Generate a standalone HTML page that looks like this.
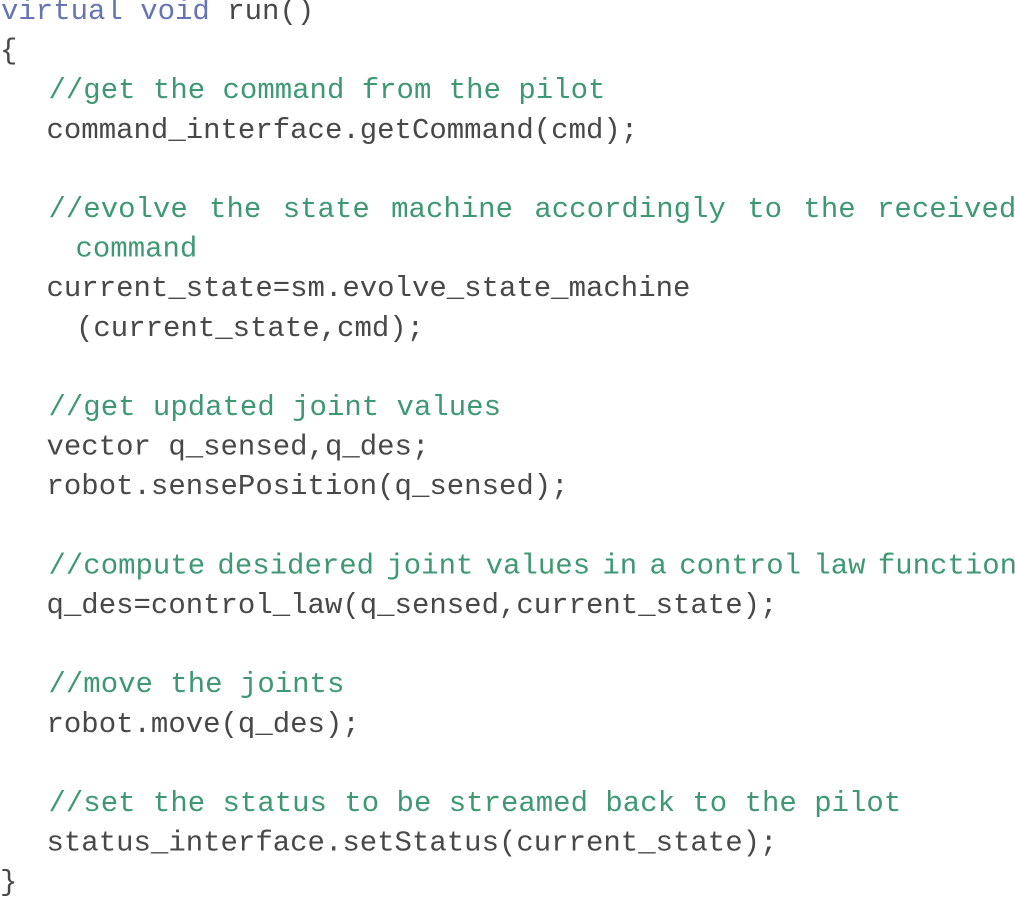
<!DOCTYPE html>
<html><head><meta charset="utf-8">
<style>
html,body{margin:0;padding:0;background:#fff}
body{width:1015px;height:903px;overflow:hidden}
svg{display:block}
text{font-family:"Liberation Mono",monospace;font-size:29px;fill:#484848;white-space:pre}
.c{fill:#3f9874}
.k{fill:#6474b4}
</style></head>
<body>
<svg width="1015" height="903" viewBox="0 0 1015 903" xmlns="http://www.w3.org/2000/svg">
<text x="1" y="19"><tspan class="k">virtual void</tspan> run()</text>
<text x="0" y="58.6">{</text>
<text x="48.5" y="98.2" class="c">//get the command from the pilot</text>
<text x="46.5" y="137.8">command_interface.getCommand(cmd);</text>
<text x="48.5" y="217" class="c" style="word-spacing:4px">//evolve the state machine accordingly to the received</text>
<text x="75.5" y="256.6" class="c">command</text>
<text x="46.5" y="296.2">current_state=sm.evolve_state_machine</text>
<text x="76" y="335.8">(current_state,cmd);</text>
<text x="48.5" y="415" class="c">//get updated joint values</text>
<text x="46.5" y="454.6">vector q_sensed,q_des;</text>
<text x="46.5" y="494.2">robot.sensePosition(q_sensed);</text>
<text x="48.5" y="573.4" class="c" style="word-spacing:-5.1px">//compute desidered joint values in a control law function</text>
<text x="46.5" y="613">q_des=control_law(q_sensed,current_state);</text>
<text x="48.5" y="692.2" class="c">//move the joints</text>
<text x="46.5" y="731.8">robot.move(q_des);</text>
<text x="48.5" y="811" class="c">//set the status to be streamed back to the pilot</text>
<text x="46.5" y="850.6">status_interface.setStatus(current_state);</text>
<text x="0" y="890.2">}</text>
</svg>
</body></html>
